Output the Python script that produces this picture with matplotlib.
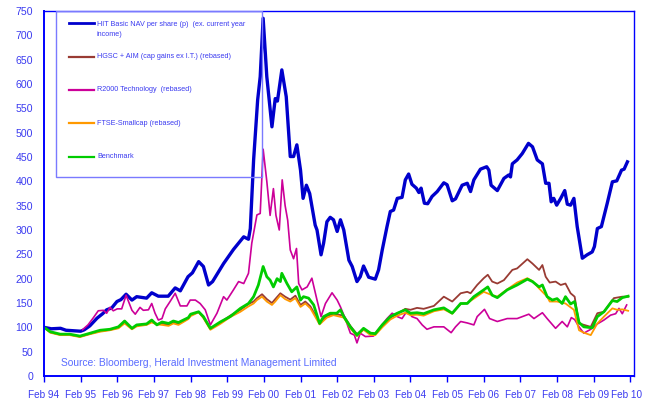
import matplotlib
matplotlib.use("Agg")
import matplotlib.pyplot as plt
import matplotlib.transforms as mtransforms
from matplotlib.patches import Rectangle

plt.rcParams['font.family'] = ['Liberation Sans', 'DejaVu Sans']

# --- DATA (time in years since Feb 94) ---
nav_t = [0.0, 0.2, 0.45, 0.6, 0.8, 1.0, 1.1, 1.25, 1.45, 1.6, 1.71, 1.85, 1.99, 2.1, 2.24, 2.4,
         2.53, 2.8, 2.94, 3.12, 3.39, 3.58, 3.72, 3.93, 4.05, 4.22, 4.35, 4.49, 4.6, 4.9, 5.17,
         5.31, 5.45, 5.58, 5.63, 5.72, 5.83, 5.9, 5.98, 6.08, 6.22, 6.31, 6.37, 6.49, 6.61, 6.72,
         6.81, 6.9, 7.0, 7.07, 7.16, 7.25, 7.4, 7.45, 7.56, 7.63, 7.72, 7.81, 7.9, 8.0, 8.09, 8.18,
         8.32, 8.41, 8.54, 8.63, 8.72, 8.86, 9.04, 9.13, 9.23, 9.36, 9.45, 9.54, 9.64, 9.77, 9.86,
         9.95, 10.04, 10.16, 10.23, 10.29, 10.38, 10.47, 10.59, 10.73, 10.91, 11.0, 11.14, 11.23,
         11.41, 11.55, 11.64, 11.73, 11.91, 12.08, 12.14, 12.2, 12.37, 12.55, 12.68, 12.73, 12.78,
         12.91, 13.05, 13.22, 13.33, 13.46, 13.6, 13.69, 13.78, 13.84, 13.91, 13.99, 14.1, 14.21,
         14.28, 14.37, 14.46, 14.55, 14.69, 14.82, 14.96, 15.02, 15.1, 15.21, 15.37, 15.51, 15.63,
         15.76, 15.83, 15.92]
nav_v = [100, 97, 98, 94, 93, 92, 95, 103, 119, 128, 136, 140, 153, 157, 168, 156,
         163, 160, 171, 164, 164, 181, 175, 204, 212, 235, 225, 187, 194, 231, 260,
         273, 286, 281, 303, 444, 567, 615, 735, 615, 512, 570, 565, 629, 574, 451,
         451, 475, 423, 365, 392, 375, 310, 300, 249, 273, 317, 326, 321, 297, 321, 300,
         238, 225, 194, 204, 226, 203, 199, 218, 259, 307, 338, 341, 365, 367, 403,
         415, 394, 386, 377, 386, 355, 354, 369, 379, 397, 393, 360, 364,
         392, 396, 379, 403, 425, 430, 423, 392, 381, 406, 413, 409, 436,
         444, 457, 478, 471, 444, 436, 396, 396, 358, 365, 351, 365, 381,
         353, 351, 365, 307, 242, 249, 255, 266, 303, 307, 355, 399, 401,
         423, 425, 440]

hgsc_t = [0.0, 0.17, 0.44, 0.7, 0.98, 1.26, 1.53, 1.8, 2.03, 2.2, 2.4, 2.53, 2.8, 2.94, 3.08,
          3.22, 3.4, 3.53, 3.67, 3.94, 4.0, 4.22, 4.35, 4.54, 4.81, 5.08, 5.36, 5.58, 5.72, 5.81,
          5.95, 6.08, 6.22, 6.31, 6.45, 6.58, 6.72, 6.86, 7.0, 7.13, 7.27, 7.52, 7.72, 7.9, 8.18,
          8.36, 8.54, 8.72, 8.91, 9.04, 9.23, 9.45, 9.64, 9.86, 10.0, 10.18, 10.36, 10.64, 10.91,
          11.14, 11.37, 11.55, 11.64, 11.82, 12.0, 12.11, 12.23, 12.37, 12.55, 12.78, 12.91, 13.19,
          13.33, 13.51, 13.6, 13.69, 13.8, 13.96, 14.1, 14.23, 14.37, 14.48, 14.6, 14.92, 15.1,
          15.28, 15.55, 15.78, 15.94]
hgsc_v = [100, 90, 85, 85, 81, 87, 92, 95, 99, 111, 97, 104, 106, 113, 107,
          108, 105, 111, 107, 119, 125, 132, 121, 97, 110, 124, 136, 148, 153, 160,
          168, 158, 150, 158, 170, 163, 157, 165, 146, 153, 143, 110, 123, 128, 124,
          103, 86, 97, 88, 87, 103, 120, 128, 138, 136, 140, 138, 144, 163,
          153, 170, 173, 170, 187, 201, 208, 194, 190, 197, 218, 221, 240,
          231, 218, 228, 204, 192, 194, 187, 190, 170, 163, 108, 101, 129,
          132, 160, 163, 163]

r2000_t = [1.05, 1.2, 1.35, 1.48, 1.62, 1.71, 1.8, 1.89, 2.0, 2.12, 2.24, 2.4, 2.49, 2.62, 2.71,
           2.85, 2.94, 3.03, 3.12, 3.22, 3.31, 3.44, 3.58, 3.72, 3.9, 3.99, 4.13, 4.26, 4.4, 4.54,
           4.72, 4.9, 4.99, 5.17, 5.31, 5.45, 5.58, 5.67, 5.81, 5.9, 5.98, 6.08, 6.17, 6.26, 6.33,
           6.42, 6.5, 6.58, 6.65, 6.72, 6.81, 6.89, 6.95, 7.04, 7.18, 7.31, 7.45, 7.56, 7.68, 7.86,
           8.0, 8.09, 8.22, 8.36, 8.47, 8.54, 8.63, 8.77, 8.99, 9.18, 9.36, 9.5, 9.64, 9.77, 9.91,
           10.04, 10.18, 10.32, 10.45, 10.64, 10.91, 11.11, 11.23, 11.37, 11.55, 11.73, 11.82, 12.02,
           12.16, 12.37, 12.64, 12.91, 13.23, 13.37, 13.6, 13.73, 13.96, 14.14, 14.28, 14.39, 14.48,
           14.6, 14.73, 14.92, 15.1, 15.28, 15.46, 15.6, 15.69, 15.78, 15.9]
r2000_v = [95, 105, 120, 134, 135, 129, 141, 134, 138, 138, 166, 135, 127, 141, 135,
           136, 149, 129, 115, 118, 138, 153, 170, 144, 144, 156, 156, 149, 136, 105,
           129, 163, 156, 177, 194, 190, 211, 273, 331, 334, 466, 400, 330, 385, 330,
           300, 403, 350, 320, 259, 241, 262, 190, 177, 183, 201, 156, 122, 149, 171,
           156, 142, 118, 88, 84, 68, 88, 81, 82, 101, 118, 129, 122, 118, 134,
           122, 118, 105, 96, 101, 101, 89, 101, 112, 109, 105, 122, 137,
           118, 112, 118, 118, 127, 118, 130, 118, 98, 112, 101, 120, 116,
           101, 88, 96, 107, 115, 125, 128, 139, 128, 146]

ftse_t = hgsc_t[:45] + [8.36, 8.54, 8.72, 8.91, 9.04, 9.23, 9.45, 9.64, 9.86, 10.0, 10.18, 10.36,
                        10.64, 10.91, 11.14, 11.37, 11.55, 11.73, 12.0, 12.23, 12.37, 12.64, 12.91,
                        13.19, 13.33, 13.51, 13.73, 13.8, 14.0, 14.23, 14.46, 14.6, 14.73, 14.92,
                        15.1, 15.28, 15.51, 15.64, 15.78, 15.94]
ftse_v = [100, 89, 84, 84, 80, 86, 91, 94, 98, 108, 96, 102, 105, 110, 106,
          105, 103, 108, 105, 117, 123, 131, 119, 95, 107, 121, 132, 143, 149, 156,
          163, 153, 146, 153, 166, 158, 153, 160, 142, 149, 139, 106, 120, 125, 120,
          98, 82, 95, 84, 84, 100, 116, 124, 130, 125, 126, 124,
          133, 137, 128, 148, 150, 159, 173, 166, 163, 178, 192,
          201, 195, 180, 163, 153, 153, 149, 136, 94, 89, 84,
          108, 122, 139, 136, 137, 134]

bench_t = [0.0, 0.17, 0.44, 0.7, 0.98, 1.26, 1.53, 1.8, 2.03, 2.2, 2.4, 2.53, 2.8, 2.94, 3.08,
           3.22, 3.4, 3.53, 3.67, 3.94, 4.0, 4.22, 4.35, 4.54, 4.81, 5.08, 5.36, 5.58, 5.72, 5.85,
           5.98, 6.08, 6.17, 6.26, 6.36, 6.45, 6.49, 6.63, 6.76, 6.9, 7.0, 7.08, 7.22, 7.36, 7.52,
           7.63, 7.81, 7.99, 8.09, 8.18, 8.36, 8.54, 8.72, 8.91, 9.04, 9.23, 9.45, 9.64, 9.86, 10.0,
           10.18, 10.36, 10.64, 10.91, 11.14, 11.37, 11.55, 11.73, 12.0, 12.11, 12.23, 12.37, 12.64,
           12.91, 13.19, 13.33, 13.51, 13.6, 13.73, 13.87, 14.0, 14.14, 14.23, 14.37, 14.48, 14.6,
           14.73, 14.96, 15.1, 15.28, 15.51, 15.64, 15.78, 15.94]
bench_v = [100, 91, 86, 86, 82, 88, 94, 96, 101, 113, 98, 105, 107, 115, 105,
           111, 108, 113, 110, 120, 127, 132, 122, 98, 111, 122, 139, 149, 163, 187,
           225, 204, 197, 183, 200, 194, 211, 190, 173, 183, 156, 163, 160, 146, 108,
           122, 129, 129, 136, 122, 101, 84, 98, 88, 87, 105, 122, 129, 136, 129,
           130, 128, 136, 140, 129, 149, 149, 163, 177, 183, 166, 161, 177,
           187, 199, 194, 183, 187, 163, 156, 159, 149, 163, 148, 153, 110,
           101, 99, 122, 132, 155, 153, 161, 164]

year_ticks = list(range(17))
year_labels = ['Feb 94', 'Feb 95', 'Feb 96', 'Feb 97', 'Feb 98', 'Feb 99', 'Feb 00', 'Feb 01',
               'Feb 02', 'Feb 03', 'Feb 04', 'Feb 05', 'Feb 06', 'Feb 07', 'Feb 08', 'Feb 09',
               'Feb 10']

labels = ['HIT Basic NAV per share (p)  (ex. current year\nincome)',
          'HGSC + AIM (cap gains ex I.T.) (rebased)',
          'R2000 Technology  (rebased)',
          'FTSE-Smallcap (rebased)',
          'Benchmark']
colors = ['#0000cc', '#993b33', '#cc0099', '#ff9900', '#00cc00']
widths = [2.4, 1.3, 1.2, 1.3, 2.0]

AXIS_BLUE = '#0000ff'
TEXT_BLUE = '#3b3bf0'

# --- PLOT ---
fig = plt.figure(figsize=(6.45, 4.0), dpi=100)
ax = fig.add_axes([44 / 645, 24 / 400, 590 / 645, 365 / 400])

series = [(nav_t, nav_v), (hgsc_t, hgsc_v), (r2000_t, r2000_v), (ftse_t, ftse_v), (bench_t, bench_v)]
for (t, v), c, lw, lab in zip(series, colors, widths, labels):
    ax.plot(t, v, color=c, lw=lw, label=lab, solid_joinstyle='round')

ax.set_xlim(0, 16.1)
ax.set_ylim(0, 750)
ax.set_yticks(range(0, 751, 50))
ax.set_xticks(year_ticks)
ax.set_xticklabels(year_labels)
ax.tick_params(axis='x', direction='out', length=4.5, width=1, color=AXIS_BLUE,
               labelsize=7.2, labelcolor=TEXT_BLUE, pad=5.5)
ax.tick_params(axis='y', length=0, labelsize=7.6, labelcolor=TEXT_BLUE, pad=8)
for s in ax.spines.values():
    s.set_color(AXIS_BLUE)
    s.set_linewidth(1.0)
ax.spines['left'].set_linewidth(1.4)
ax.spines['bottom'].set_linewidth(1.4)

# last x label nudged inward so it stays on the canvas
last = ax.get_xticklabels()[-1]
last.set_transform(last.get_transform() + mtransforms.ScaledTranslation(-2.5 / 72, 0, fig.dpi_scale_trans))

# legend box (Excel style, entries spaced evenly)
ax.add_patch(Rectangle((0.0203, 0.545), 0.349, 0.455, transform=ax.transAxes,
                       fill=False, edgecolor='#7a7aff', lw=1.0, zorder=5))
row_y = 0.966
for i, (c, lab) in enumerate(zip(colors, labels)):
    y = row_y - i * 0.0912
    ax.plot([0.0424, 0.0847], [y, y], transform=ax.transAxes, color=c, lw=2.0 if i == 0 else 1.6,
            clip_on=False, zorder=6)
    ty = y - 0.0165 if '\n' in lab else y
    ax.text(0.0898, ty, lab, transform=ax.transAxes, fontsize=5.2, color=TEXT_BLUE,
            va='center', ha='left', linespacing=1.55, zorder=6)

ax.text(0.0288, 0.0356, 'Source: Bloomberg, Herald Investment Management Limited',
        transform=ax.transAxes, fontsize=7.4, color='#5a6cff', va='center', ha='left')

fig.savefig('out.png', dpi=100)
